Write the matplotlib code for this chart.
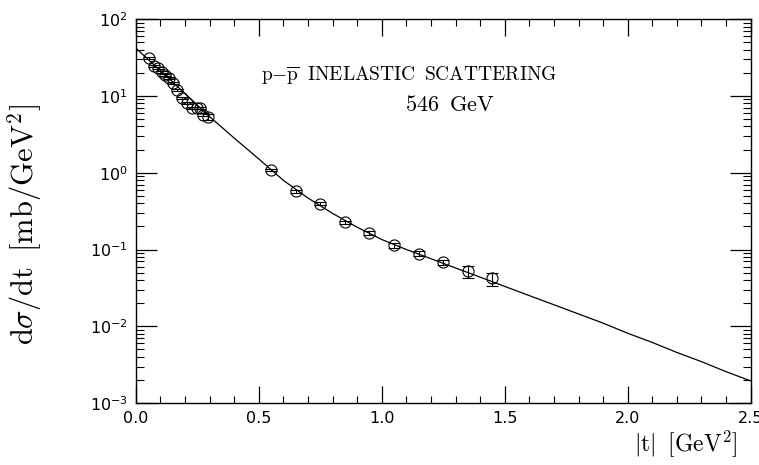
import numpy as np
import matplotlib
matplotlib.use("Agg")
import matplotlib.pyplot as plt
from matplotlib.ticker import MultipleLocator, LogLocator, NullFormatter

plt.rcParams['mathtext.fontset'] = 'cm'
plt.rcParams['font.family'] = ['DejaVu Sans']

# measured points: |t| [GeV^2], dsigma/dt [mb/GeV^2], error
t_data = [0.053, 0.073, 0.089, 0.106, 0.118, 0.134, 0.150, 0.167, 0.187,
          0.207, 0.228, 0.248, 0.260, 0.272, 0.293,
          0.55, 0.65, 0.75, 0.85, 0.95, 1.05, 1.15, 1.25, 1.35, 1.45]
dsdt_data = [31.2, 24.5, 23.1, 20.5, 18.8, 17.1, 14.8, 12.0, 9.4,
             8.1, 7.0, 7.0, 7.0, 5.7, 5.3,
             1.09, 0.57, 0.395, 0.226, 0.166, 0.113, 0.0887, 0.068, 0.052, 0.042]
dsdt_err = [1.0, 0.8, 0.7, 0.6, 0.6, 0.5, 0.5, 0.4, 0.3,
            0.3, 0.25, 0.25, 0.25, 0.3, 0.5,
            0.04, 0.03, 0.02, 0.012, 0.01, 0.008, 0.006, 0.006, 0.009, 0.008]

# fitted curve
t_fit = [0.0, 0.1, 0.2, 0.3, 0.4, 0.5, 0.6, 0.7, 0.8, 0.9, 1.0, 1.1, 1.2,
         1.3, 1.4, 1.5, 1.6, 1.7, 1.8, 1.9, 2.0, 2.1, 2.2, 2.3, 2.4, 2.5]
dsdt_fit = [41.7, 21.4, 10.7, 5.37, 2.82, 1.51, 0.794, 0.468, 0.295, 0.195,
            0.135, 0.100, 0.0759, 0.0575, 0.0437, 0.0331, 0.0251, 0.0191,
            0.0145, 0.0110, 0.00813, 0.00617, 0.00457, 0.00347, 0.00257, 0.00195]

fig = plt.figure(figsize=(7.59, 4.65), dpi=100)
ax = fig.add_axes([0.179, 0.133, 0.81, 0.826])

ax.plot(t_fit, dsdt_fit, color='black', lw=0.9)
ax.errorbar(t_data, dsdt_data, yerr=dsdt_err, fmt='o', mfc='none', mec='black',
            ecolor='black', ms=8, mew=0.8, elinewidth=0.8, capsize=4, capthick=0.8)

ax.set_yscale('log')
ax.set_xlim(0, 2.5)
ax.set_ylim(1e-3, 1e2)

ax.xaxis.set_major_locator(MultipleLocator(0.5))
ax.xaxis.set_minor_locator(MultipleLocator(0.1))
ax.xaxis.set_major_formatter(matplotlib.ticker.FormatStrFormatter('%.1f'))
ax.yaxis.set_major_locator(LogLocator(base=10, numticks=10))
ax.yaxis.set_minor_locator(LogLocator(base=10, subs=np.arange(2, 10), numticks=20))
ax.yaxis.set_minor_formatter(NullFormatter())

ax.tick_params(which='both', direction='in', top=True, right=True, labelsize=11.5)
ax.tick_params(axis='x', which='major', length=12, width=0.9, pad=6)
ax.tick_params(axis='x', which='minor', length=5, width=0.8)
ax.tick_params(axis='y', which='major', length=15, width=0.9, pad=6)
ax.tick_params(axis='y', which='minor', length=6, width=0.8)
for sp in ax.spines.values():
    sp.set_linewidth(1.0)

ax.set_ylabel(r'$\mathrm{d}\sigma/\mathrm{dt}\;\;[\mathrm{mb/GeV}^2]$', fontsize=22)
ax.yaxis.set_label_coords(-0.15, 0.465)
ax.set_xlabel(r'$|\mathrm{t}|\;\;[\mathrm{GeV}^2]$', fontsize=17)
ax.xaxis.set_label_coords(0.895, -0.065)

ax.text(0.445, 0.854, r'$\mathrm{p{-}\overline{p}\;\;INELASTIC\;\;SCATTERING}$',
        transform=ax.transAxes, ha='center', va='center', fontsize=14)
ax.text(0.51, 0.776, r'$\mathrm{546\;\;GeV}$',
        transform=ax.transAxes, ha='center', va='center', fontsize=16)

fig.savefig('out.png', dpi=100)
